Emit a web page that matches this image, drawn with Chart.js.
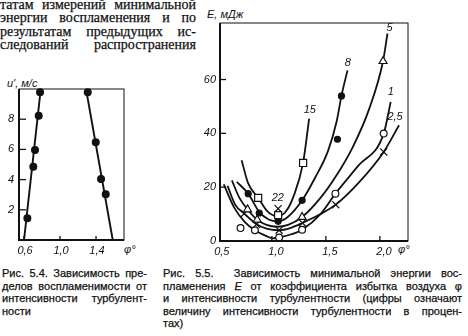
<!DOCTYPE html>
<html>
<head>
<meta charset="utf-8">
<script src="https://cdn.jsdelivr.net/npm/chart.js@4/dist/chart.umd.min.js"></script>
<style>
  html, body { margin: 0; padding: 0; background: #fff; }
  body { width: 468px; height: 336px; position: relative; overflow: hidden; color: #111; }
  canvas { position: absolute; }
  .para { position: absolute; left: 0; top: -2px; width: 196px; font: 14px/13.4px "Liberation Serif", serif; -webkit-text-stroke: 0.25px #111; }
  .cap { position: absolute; font: 11px/12.6px "Liberation Sans", sans-serif; -webkit-text-stroke: 0.25px #111; }
  .para div, .cap div { text-align: justify; text-align-last: justify; }
  .cap div.last { text-align-last: left; }
  .lbl { position: absolute; font: italic 11px "Liberation Sans", sans-serif; white-space: nowrap; }
</style>
</head>
<body>
<div class="para">
  <div>татам измерений минимальной</div>
  <div>энергии воспламенения и по</div>
  <div>результатам предыдущих ис-</div>
  <div>следований распространения</div>
</div>

<span class="lbl" style="left:7px;top:77px">u', м/с</span>
<span class="lbl" style="left:124px;top:243px">φ°</span>
<span class="lbl" style="left:207px;top:8px">E, мДж</span>
<span class="lbl" style="left:398px;top:243px">φ°</span>

<canvas id="left" width="135" height="202" style="left:0;top:60px"></canvas>
<canvas id="right" width="225" height="262" style="left:190px;top:0"></canvas>

<div class="cap" style="left:2px;top:267px;width:145px">
  <div>Рис. 5.4. Зависимость пре-</div>
  <div>делов воспламенимости от</div>
  <div>интенсивности турбулент-</div>
  <div class="last">ности</div>
</div>
<div class="cap" style="left:163px;top:267px;width:299px">
  <div>Рис. 5.5.&nbsp; Зависимость минимальной энергии вос-</div>
  <div>пламенения <i>E</i> от коэффициента избытка воздуха φ</div>
  <div>и интенсивности турбулентности (цифры означают</div>
  <div>величину интенсивности турбулентности в процен-</div>
  <div class="last">тах)</div>
</div>

<script>
// Рис. 5.4 — пределы воспламенимости
const LEFT_X_TICKS = [0.6, 1.0, 1.4];
const LEFT_Y_TICKS = [2, 4, 6, 8];
const LEAN_PHI = [0.778, 0.763, 0.722, 0.703, 0.637];
const LEAN_U   = [9.78, 8.23, 5.96, 4.85, 1.44];
const RICH_PHI = [1.308, 1.397, 1.456, 1.508];
const RICH_U   = [9.78, 6.47, 4.04, 3.03];
const LEAN_LINE_PHI = [0.600, 0.786];
const LEAN_LINE_U   = [0, 10];
const RICH_LINE_PHI = [1.289, 1.586];
const RICH_LINE_U   = [10, 0];

// Рис. 5.5 — минимальная энергия воспламенения, кривые по интенсивности турбулентности (%)
const RIGHT_X_TICKS = [0.5, 1.0, 1.5, 2.0];
const RIGHT_Y_TICKS = [0, 20, 40, 60];

const C15_PHI = [0.72, 0.78, 0.873, 0.96, 1.04, 1.12, 1.20, 1.289, 1.345];
const C15_E   = [30.0, 21.5, 16.0, 11.0, 9.3, 10.5, 16.5, 29.0, 45.5];
const C8_PHI  = [0.675, 0.781, 0.883, 0.97, 1.058, 1.15, 1.28, 1.40, 1.52, 1.60, 1.644, 1.70];
const C8_E    = [22.0, 17.6, 10.8, 8.0, 7.3, 9.0, 15.1, 23.5, 33.5, 44.5, 53.9, 63.4];
const C5_PHI  = [0.63, 0.70, 0.775, 0.864, 0.95, 1.05, 1.15, 1.28, 1.45, 1.60, 1.75, 1.90, 2.029, 2.07];
const C5_E    = [22.5, 16.0, 11.7, 7.9, 6.0, 5.3, 6.0, 8.9, 16.0, 24.5, 35.0, 49.0, 66.8, 77.1];
const C1_PHI  = [0.555, 0.65, 0.75, 0.843, 0.95, 1.01, 1.067, 1.18, 1.28, 1.45, 1.588, 1.80, 2.035, 2.10];
const C1_E    = [21.0, 12.5, 7.0, 4.0, 1.8, 1.0, 1.3, 2.5, 4.2, 10.0, 17.6, 28.0, 39.9, 51.7];
const C25_PHI = [0.59, 0.66, 0.744, 0.858, 0.95, 1.067, 1.17, 1.283, 1.45, 1.591, 1.80, 2.035, 2.177];
const C25_E   = [20.5, 13.5, 10.2, 6.2, 4.6, 4.0, 4.8, 6.7, 10.0, 13.5, 21.5, 33.1, 43.0];

// экспериментальные точки
const SQ_PHI    = [0.873, 1.058, 1.289];
const SQ_E      = [16.0, 9.6, 29.0];
const DOT_PHI   = [0.781, 0.883, 1.058, 1.280, 1.607, 1.644];
const DOT_E     = [17.6, 10.4, 7.3, 15.1, 37.8, 53.9];
const TRI_PHI   = [0.775, 0.864, 1.280, 2.029];
const TRI_E     = [11.7, 7.9, 8.9, 66.8];
const CROSS_PHI = [0.744, 0.858, 1.067, 1.283, 1.591, 2.035, 1.058];
const CROSS_E   = [10.2, 6.2, 4.0, 6.7, 13.5, 33.1, 12.0];
const RING_PHI  = [0.710, 0.843, 1.067, 1.280, 1.588, 2.035];
const RING_E    = [4.8, 4.0, 1.3, 4.2, 17.6, 39.9];

const CURVE_LABELS = ['15', '8', '5', '1', '2,5', '22'];
const LABEL_PHI    = [1.351, 1.702, 2.09, 2.10, 2.14, 1.055];
const LABEL_E      = [48.8, 66.0, 79.0, 55.3, 46.0, 15.9];

const INK = '#111';
const tickFont = { family: 'Liberation Sans', size: 11, style: 'italic' };
const zip = (xs, ys) => xs.map((x, i) => ({ x, y: ys[i] }));
const comma = v => String(v.toFixed(1)).replace('.', ',');

// рамка, внутренние засечки и подписи кривых
const frame = {
  id: 'frame',
  afterDraw(chart, args, o) {
    const { ctx, chartArea: a, scales: { x, y } } = chart;
    ctx.save();
    ctx.strokeStyle = INK;
    ctx.lineWidth = 1;
    ctx.strokeRect(a.left, a.top, a.right - a.left, a.bottom - a.top);
    ctx.lineWidth = 2;
    ctx.beginPath();
    ctx.moveTo(a.left, a.top); ctx.lineTo(a.left, a.bottom); ctx.lineTo(a.right, a.bottom);
    ctx.stroke();
    ctx.lineWidth = 1.3;
    x.ticks.forEach(t => {
      const px = x.getPixelForValue(t.value);
      if (px <= a.left + 2) return;
      ctx.beginPath(); ctx.moveTo(px, a.bottom); ctx.lineTo(px, a.bottom - o.tx); ctx.stroke();
    });
    y.ticks.forEach(t => {
      const py = y.getPixelForValue(t.value);
      if (py >= a.bottom - 2) return;
      ctx.beginPath(); ctx.moveTo(a.left, py); ctx.lineTo(a.left + o.ty, py); ctx.stroke();
    });
    if (o.labels) {
      ctx.fillStyle = INK;
      ctx.font = 'italic 11px "Liberation Sans"';
      ctx.textAlign = 'center';
      ctx.textBaseline = 'middle';
      o.labels.forEach((s, i) => ctx.fillText(s, x.getPixelForValue(o.lx[i]), y.getPixelForValue(o.ly[i])));
    }
    ctx.restore();
  }
};

function axes(xr, yr, xTicks, yTicks, yWidth, xHeight, xFmt, labelOffset, yPad) {
  return {
    x: {
      type: 'linear', min: xr[0], max: xr[1],
      afterBuildTicks: s => { s.ticks = xTicks.map(v => ({ value: v })); },
      afterFit: s => { s.height = xHeight; },
      grid: { display: false, drawTicks: false },
      border: { display: false },
      ticks: { color: INK, font: tickFont, padding: 4, labelOffset, maxRotation: 0, autoSkip: false, callback: xFmt }
    },
    y: {
      type: 'linear', min: yr[0], max: yr[1],
      afterBuildTicks: s => { s.ticks = yTicks.map(v => ({ value: v })); },
      afterFit: s => { s.width = yWidth; },
      grid: { display: false, drawTicks: false },
      border: { display: false },
      ticks: { color: INK, font: tickFont, padding: yPad, autoSkip: false, callback: v => String(v) }
    }
  };
}

const line = (data, order) => ({ data, showLine: true, pointRadius: 0, borderColor: INK, borderWidth: 1.8, cubicInterpolationMode: 'monotone', order, clip: false });
const marks = (data, pointStyle, radius, filled) => ({
  data, showLine: false, pointStyle, pointRadius: radius, pointBorderWidth: 1.2,
  pointBorderColor: INK, pointBackgroundColor: filled ? INK : '#fff', order: 0, clip: false
});

new Chart(document.getElementById('left'), {
  type: 'scatter',
  data: {
    datasets: [
      { data: zip(LEAN_LINE_PHI, LEAN_LINE_U), showLine: true, pointRadius: 0, borderColor: INK, borderWidth: 1.9, order: 2 },
      { data: zip(RICH_LINE_PHI, RICH_LINE_U), showLine: true, pointRadius: 0, borderColor: INK, borderWidth: 1.9, order: 2 },
      marks(zip(LEAN_PHI, LEAN_U), 'circle', 3.4, true),
      marks(zip(RICH_PHI, RICH_U), 'circle', 3.4, true)
    ]
  },
  options: {
    responsive: false, animation: false,
    layout: { padding: { top: 29, right: 11, left: 0, bottom: 0 } },
    plugins: { legend: { display: false }, tooltip: { enabled: false }, frame: { tx: 4, ty: 7 } },
    scales: axes([0.544, 1.711], [0, 10], LEFT_X_TICKS, LEFT_Y_TICKS, 19, 22, comma, 1, 5)
  },
  plugins: [frame]
});

new Chart(document.getElementById('right'), {
  type: 'scatter',
  data: {
    datasets: [
      line(zip(C15_PHI, C15_E), 2),
      line(zip(C8_PHI, C8_E), 2),
      line(zip(C5_PHI, C5_E), 2),
      line(zip(C1_PHI, C1_E), 2),
      line(zip(C25_PHI, C25_E), 2),
      marks(zip(SQ_PHI, SQ_E), 'rect', 5, false),
      marks(zip(DOT_PHI, DOT_E), 'circle', 3, true),
      marks(zip(TRI_PHI, TRI_E), 'triangle', 4.6, false),
      marks(zip(CROSS_PHI, CROSS_E), 'crossRot', 5, false),
      marks(zip(RING_PHI, RING_E), 'circle', 3.4, false)
    ]
  },
  options: {
    responsive: false, animation: false,
    layout: { padding: { top: 23, right: 7, left: 0, bottom: 0 } },
    plugins: {
      legend: { display: false }, tooltip: { enabled: false },
      frame: { tx: 5, ty: 6, labels: CURVE_LABELS, lx: LABEL_PHI, ly: LABEL_E }
    },
    scales: axes([0.52, 2.26], [0, 81], RIGHT_X_TICKS, RIGHT_Y_TICKS, 30, 21, comma, 4, 4)
  },
  plugins: [frame]
});
</script>
</body>
</html>
